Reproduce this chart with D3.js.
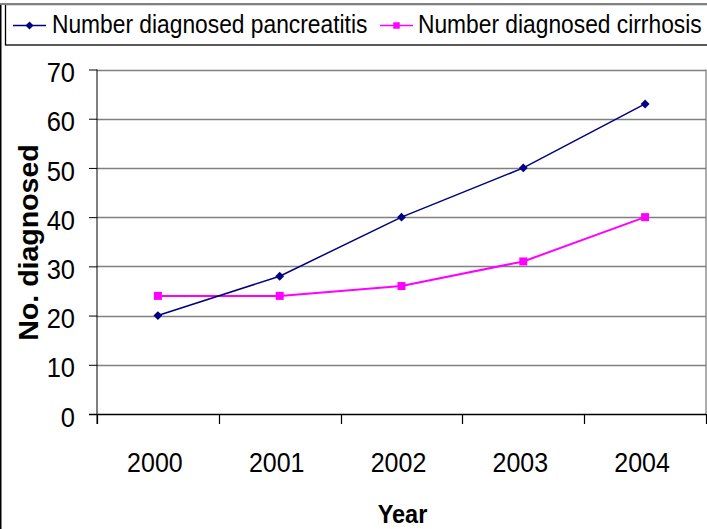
<!DOCTYPE html>
<html>
<head>
<meta charset="utf-8">
<script src="https://cdn.jsdelivr.net/npm/d3@7"></script>
<style>
  body { margin: 0; background: #fff; }
  svg { display: block; font-family: "Liberation Sans", Arial, sans-serif; }
</style>
</head>
<body>
<svg id="chart" width="707" height="529"></svg>
<script>
// chart data
var years = ['2000', '2001', '2002', '2003', '2004'];
var pancreatitis = [20, 28, 40, 50, 63];
var cirrhosis = [24, 24, 26, 31, 40];
var yTicks = [0, 10, 20, 30, 40, 50, 60, 70];
var seriesNames = ['Number diagnosed pancreatitis', 'Number diagnosed cirrhosis'];

var svg = d3.select('#chart');

// plot area bounds (note: "top" is taken by window.top)
var plotLeft = 97, plotRight = 706, plotTop = 69.5, plotBottom = 414;
var stretch = 1.12; // text in the picture is a bit taller than wide

var x = d3.scaleBand().domain(years).range([plotLeft, plotRight]);
var y = d3.scaleLinear().domain([0, 70]).range([plotBottom, plotTop]);

// outer frame
svg.append('line')
    .attr('x1', 0.75).attr('x2', 0.75).attr('y1', 4).attr('y2', 529)
    .attr('stroke', '#000').attr('stroke-width', 1.5);

// gridlines
svg.append('g').selectAll('line')
    .data(yTicks.filter(function(d) { return d > 0; }))
    .join('line')
    .attr('x1', plotLeft).attr('x2', plotRight)
    .attr('y1', function(d) { return Math.round(y(d)) + 0.5; })
    .attr('y2', function(d) { return Math.round(y(d)) + 0.5; })
    .attr('stroke', '#808080').attr('stroke-width', 1.3);

// right border of plot area
svg.append('line')
    .attr('x1', plotRight).attr('x2', plotRight).attr('y1', y(70)).attr('y2', plotBottom)
    .attr('stroke', '#808080').attr('stroke-width', 1.3);

// y axis
var yAxis = d3.axisLeft(y).tickValues(yTicks).tickSize(8).tickFormat('');
var gy = svg.append('g').attr('transform', 'translate(' + plotLeft + ',0)').call(yAxis);
gy.select('.domain').attr('stroke', '#000').attr('d', 'M0,' + plotTop + 'V' + (plotBottom + 10));
gy.selectAll('.tick line').attr('stroke', '#000');

gy.selectAll('.lbl')
    .data(yTicks)
    .join('text')
    .attr('class', 'lbl')
    .attr('transform', function(d) { return 'translate(' + (75 - plotLeft) + ',' + (y(d) + 12.6) + ') scale(1,' + stretch + ')'; })
    .attr('text-anchor', 'end')
    .attr('font-size', 25.5)
    .attr('fill', '#000')
    .text(function(d) { return d; });

// x axis
svg.append('line')
    .attr('x1', plotLeft - 8).attr('x2', plotRight).attr('y1', plotBottom + 0.5).attr('y2', plotBottom + 0.5)
    .attr('stroke', '#000').attr('stroke-width', 1.3);

var bounds = years.map(function(d) { return x(d); }).concat([plotRight]);
svg.append('g').selectAll('line')
    .data(bounds)
    .join('line')
    .attr('x1', function(d) { return Math.round(d) + 0.5; })
    .attr('x2', function(d) { return Math.round(d) + 0.5; })
    .attr('y1', plotBottom).attr('y2', plotBottom + 10)
    .attr('stroke', '#000').attr('stroke-width', 1.2);

svg.append('g').selectAll('text')
    .data(years)
    .join('text')
    .attr('transform', function(d) { return 'translate(' + (x(d) + x.bandwidth() / 2 - 3) + ',471.7) scale(1,' + stretch + ')'; })
    .attr('text-anchor', 'middle')
    .attr('font-size', 25)
    .text(function(d) { return d; });

// axis titles
svg.append('text')
    .attr('transform', 'translate(' + ((plotLeft + plotRight) / 2 + 1) + ',523.3) scale(1,' + stretch + ')')
    .attr('text-anchor', 'middle')
    .attr('font-size', 23.5)
    .attr('font-weight', 'bold')
    .text('Year');

svg.append('text')
    .attr('transform', 'translate(37.5,242.5) rotate(-90)')
    .attr('text-anchor', 'middle')
    .attr('font-size', 28.5)
    .attr('font-weight', 'bold')
    .text('No. diagnosed');

// series lines and markers
var cx = function(d, i) { return x(years[i]) + x.bandwidth() / 2; };
var line = d3.line().x(cx).y(function(d) { return y(d); });

svg.append('path')
    .datum(cirrhosis)
    .attr('d', line)
    .attr('fill', 'none').attr('stroke', '#ff00ff').attr('stroke-width', 2);

svg.append('path')
    .datum(pancreatitis)
    .attr('d', line)
    .attr('fill', 'none').attr('stroke', '#000080').attr('stroke-width', 1.5);

var diamond = d3.symbol().type(d3.symbolDiamond2).size(50);
var square = d3.symbol().type(d3.symbolSquare).size(64);

svg.append('g').selectAll('path')
    .data(cirrhosis)
    .join('path')
    .attr('transform', function(d, i) { return 'translate(' + cx(d, i) + ',' + y(d) + ')'; })
    .attr('d', square)
    .attr('fill', '#ff00ff');

svg.append('g').selectAll('path')
    .data(pancreatitis)
    .join('path')
    .attr('transform', function(d, i) { return 'translate(' + cx(d, i) + ',' + y(d) + ')'; })
    .attr('d', diamond)
    .attr('fill', '#000080');

// legend
var legend = svg.append('g');
legend.append('rect')
    .attr('x', 5.5).attr('y', 4.5).attr('width', 720).attr('height', 40.5)
    .attr('fill', '#fff').attr('stroke', '#000').attr('stroke-width', 1.3);
legend.append('line')
    .attr('x1', 0).attr('x2', 707).attr('y1', 4).attr('y2', 4)
    .attr('stroke', '#808080').attr('stroke-width', 2);

var legendItems = [
    {name: seriesNames[0], color: '#000080', symbol: d3.symbol().type(d3.symbolDiamond2).size(40), x0: 13, tx: 52},
    {name: seriesNames[1], color: '#ff00ff', symbol: d3.symbol().type(d3.symbolSquare).size(42), x0: 380, tx: 418}
];
legendItems.forEach(function(item) {
    legend.append('line')
        .attr('x1', item.x0).attr('x2', item.x0 + 33).attr('y1', 25.5).attr('y2', 25.5)
        .attr('stroke', item.color).attr('stroke-width', 1.5);
    legend.append('path')
        .attr('transform', 'translate(' + (item.x0 + 16.5) + ',25.5)')
        .attr('d', item.symbol)
        .attr('fill', item.color);
    legend.append('text')
        .attr('transform', 'translate(' + item.tx + ',33.3) scale(1,' + stretch + ')')
        .attr('font-size', 22.8)
        .text(item.name);
});
</script>
</body>
</html>
